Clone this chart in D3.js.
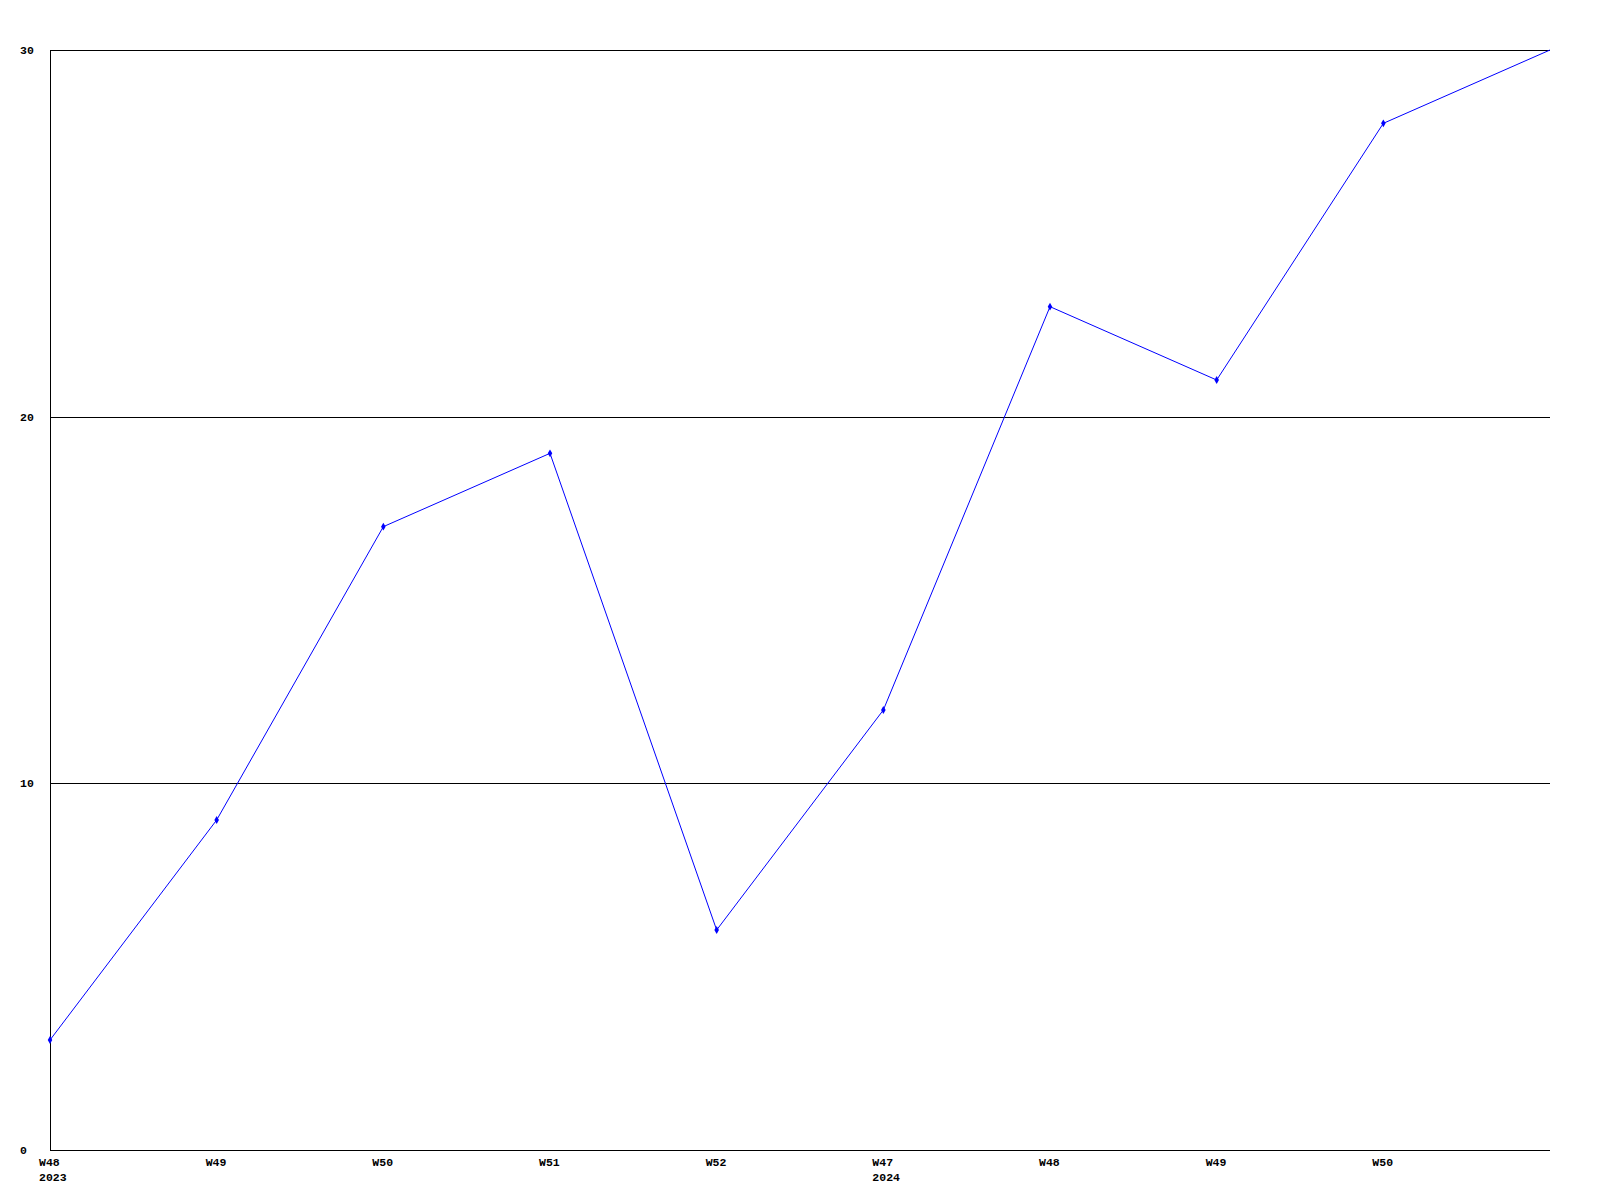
<!DOCTYPE html>
<html>
<head>
<meta charset="utf-8">
<script src="https://cdn.jsdelivr.net/npm/d3@7"></script>
<style>
  html, body { margin: 0; padding: 0; background: #fff; }
  svg { display: block; }
  text { font-family: "Liberation Mono", "DejaVu Sans Mono", monospace; font-weight: bold; font-size: 11.5px; fill: #000; }
</style>
</head>
<body>
<svg id="chart" width="1600" height="1200"></svg>
<script>
const weekLabels = ["W48", "W49", "W50", "W51", "W52", "W47", "W48", "W49", "W50", ""];
const yearLabels = ["2023", "", "", "", "", "2024", "", "", "", ""];
const values = [3, 9, 17, 19, 6, 12, 23, 21, 28, 30];
const yTicks = [0, 10, 20, 30];

const svg = d3.select("#chart");
const mLeft = 50, mRight = 1550, mTop = 50, mBottom = 1150;
const idx = values.map((_, i) => i);

const x = d3.scalePoint().domain(idx).range([mLeft, mRight]);
const y = d3.scaleLinear().domain([0, 30]).range([mBottom, mTop]);

svg.append("defs").append("clipPath").attr("id", "mclip")
  .append("rect").attr("x", mLeft - 5).attr("y", mTop - 5)
  .attr("width", mRight - mLeft + 2).attr("height", mBottom - mTop + 10);

// gridlines
svg.append("g").selectAll("line").data(yTicks.filter(d => d > 0)).join("line")
  .attr("x1", mLeft).attr("x2", mRight)
  .attr("y1", d => Math.round(y(d)) + 0.5).attr("y2", d => Math.round(y(d)) + 0.5)
  .attr("stroke", "#000").attr("stroke-width", 1).attr("shape-rendering", "crispEdges");

// axes
svg.append("line").attr("x1", mLeft + 0.5).attr("x2", mLeft + 0.5).attr("y1", mTop).attr("y2", mBottom + 0.5)
  .attr("stroke", "#000").attr("shape-rendering", "crispEdges");
svg.append("line").attr("x1", mLeft).attr("x2", mRight).attr("y1", mBottom + 0.5).attr("y2", mBottom + 0.5)
  .attr("stroke", "#000").attr("shape-rendering", "crispEdges");

// y labels
svg.append("g").selectAll("text").data(yTicks).join("text")
  .attr("x", 20).attr("y", d => y(d)).attr("dy", "0.35em")
  .text(d => d);

// x labels
const xl = svg.append("g");
xl.selectAll("text.wk").data(idx).join("text").attr("class", "wk")
  .attr("x", d => x(d) - 11).attr("y", 1166)
  .text(d => weekLabels[d]);
xl.selectAll("text.yr").data(idx).join("text").attr("class", "yr")
  .attr("x", d => x(d) - 11).attr("y", 1181)
  .text(d => yearLabels[d]);

// line
const line = d3.line().x(d => x(d)).y(d => y(values[d]));
svg.append("path").datum(idx).attr("d", line)
  .attr("fill", "none").attr("stroke", "#0000ff").attr("stroke-width", 1);

// markers
svg.append("g").attr("clip-path", "url(#mclip)").selectAll("path").data(idx).join("path")
  .attr("d", d3.symbol().type(d3.symbolDiamond).size(18))
  .attr("transform", d => `translate(${x(d)},${y(values[d])})`)
  .attr("fill", "#0000ff")
  .attr("visibility", d => x(d) >= mRight ? "hidden" : "visible");
</script>
</body>
</html>
